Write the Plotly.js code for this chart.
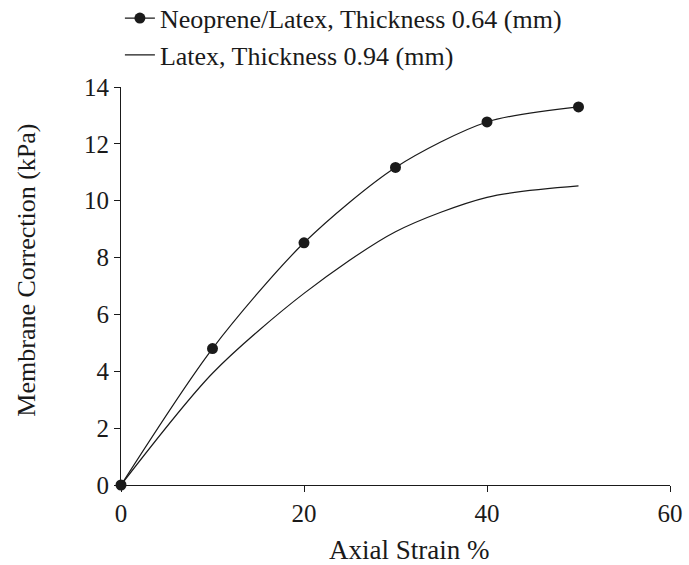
<!DOCTYPE html>
<html>
<head>
<meta charset="utf-8">
<script src="https://cdn.plot.ly/plotly-3.0.1.min.js"></script>
<style>html,body{margin:0;padding:0;background:#fff;}#chart{width:689px;height:565px;}</style>
</head>
<body>
<div id="chart"></div>
<script>
const strain = [0, 10, 20, 30, 40, 50];
const neopreneLatex = [0, 4.8, 8.52, 11.17, 12.77, 13.3];
const latex = [0, 3.93, 6.74, 8.91, 10.12, 10.52];
const seriesNames = ["Neoprene/Latex, Thickness 0.64 (mm)", "Latex, Thickness 0.94 (mm)"];
const xTitle = "Axial Strain %";
const yTitle = "Membrane Correction (kPa)";

const fontFam = "Liberation Serif, Times New Roman, serif";
const ink = "#1a1a1a";

const traces = [
  {
    x: strain, y: neopreneLatex, name: seriesNames[0],
    type: "scatter", mode: "lines+markers",
    line: {color: ink, width: 1.2, shape: "spline", smoothing: 0.8},
    marker: {color: ink, size: 11},
    cliponaxis: false
  },
  {
    x: strain, y: latex, name: seriesNames[1],
    type: "scatter", mode: "lines",
    line: {color: ink, width: 1.2, shape: "spline", smoothing: 0.8},
    cliponaxis: false
  }
];

const layout = {
  width: 689, height: 565,
  margin: {l: 121, r: 19, t: 87, b: 80, autoexpand: false},
  paper_bgcolor: "#fff", plot_bgcolor: "#fff",
  font: {family: fontFam, color: ink, size: 24},
  showlegend: true,
  legend: {
    x: -0.002, xanchor: "left", y: 1.232, yanchor: "top",
    font: {family: fontFam, size: 26, color: ink},
    bgcolor: "rgba(0,0,0,0)", tracegroupgap: 0, itemwidth: 30
  },
  xaxis: {
    range: [0, 60], tickvals: [0, 20, 40, 60], ticktext: ["0", "20", "40", "60"],
    showgrid: false, zeroline: false, showline: true, linecolor: ink, linewidth: 1,
    ticks: "outside", ticklen: 6, tickcolor: ink, tickwidth: 1,
    tickfont: {family: fontFam, size: 25, color: ink}
  },
  yaxis: {
    range: [0, 14], tickvals: [0, 2, 4, 6, 8, 10, 12, 14],
    showgrid: false, zeroline: false, showline: true, linecolor: ink, linewidth: 1,
    ticks: "outside", ticklen: 6, tickcolor: ink, tickwidth: 1,
    tickfont: {family: fontFam, size: 25, color: ink}
  },
  annotations: [
    {text: xTitle, xref: "paper", yref: "paper", x: 0.5255, y: -0.163,
     xanchor: "center", yanchor: "middle", showarrow: false,
     font: {family: fontFam, size: 27, color: ink}},
    {text: yTitle, xref: "paper", yref: "paper", x: -0.172, y: 0.54,
     xanchor: "center", yanchor: "middle", showarrow: false, textangle: -90,
     font: {family: fontFam, size: 26, color: ink}}
  ]
};

Plotly.newPlot("chart", traces, layout, {staticPlot: true, displayModeBar: false});
</script>
</body>
</html>
